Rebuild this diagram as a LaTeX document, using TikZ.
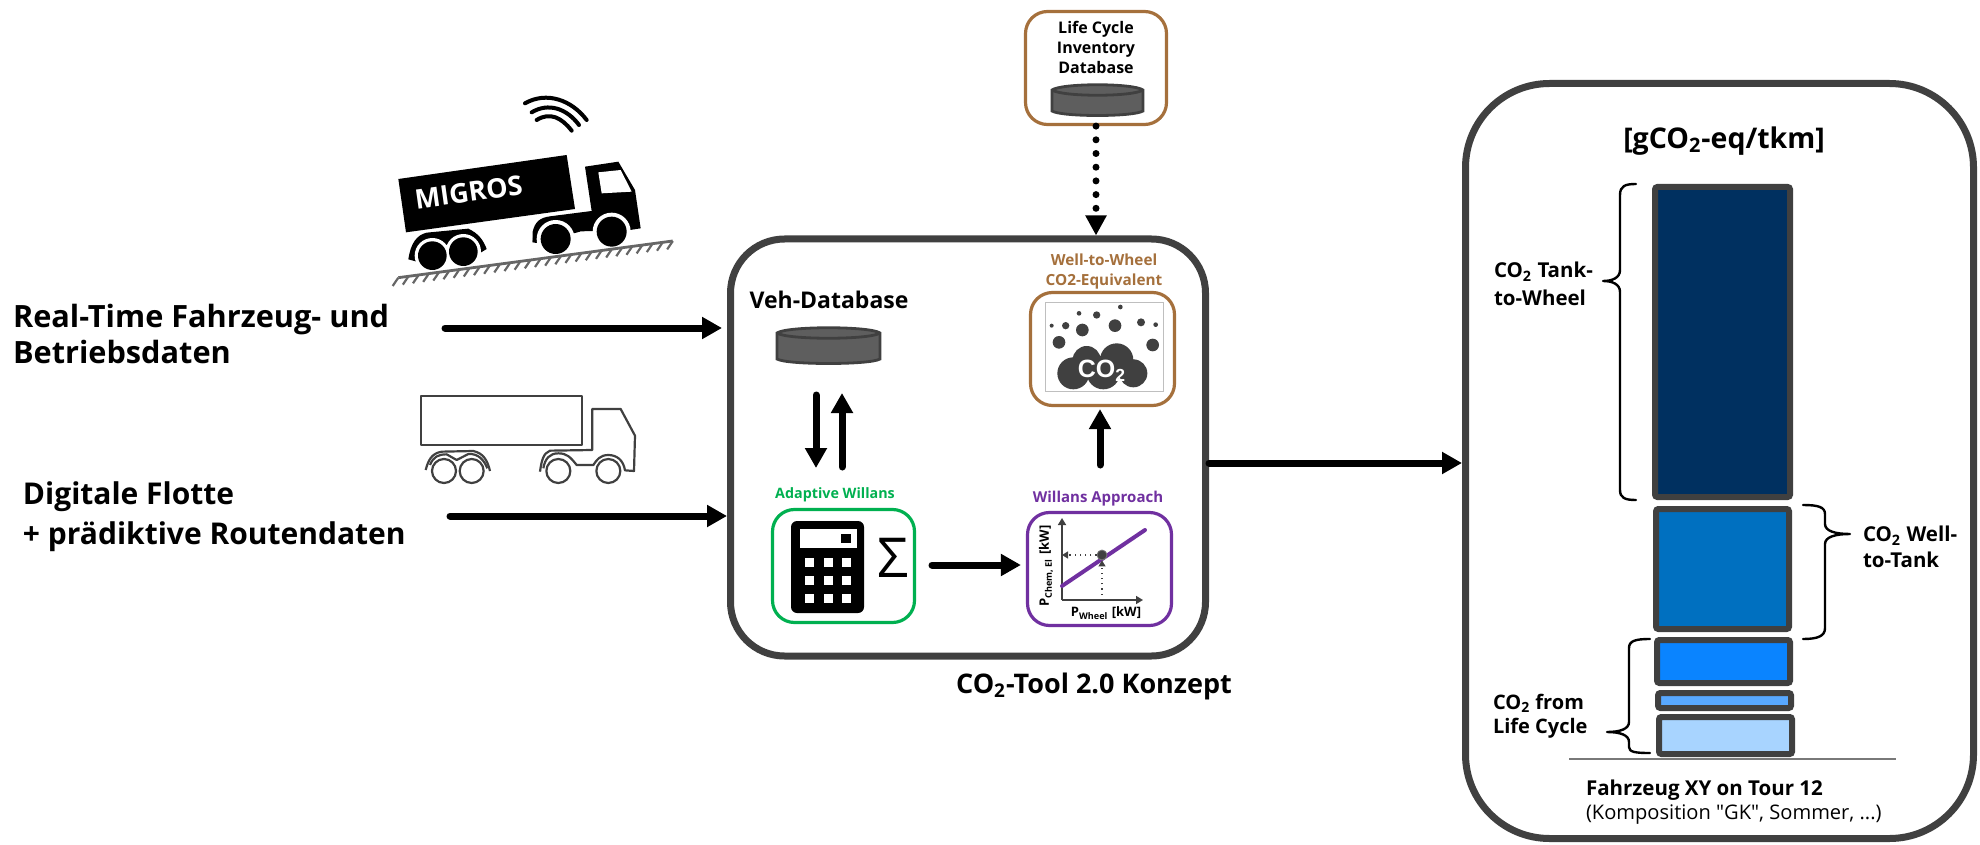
\documentclass[tikz,border=0pt]{standalone}
\usepackage{fontspec}
\setmainfont{Open Sans}
\newfontfamily\plainfont{Open Sans}
\usetikzlibrary{arrows.meta}
\newfontfamily\arialfont{Liberation Sans}
\newcommand{\pxfont}[2]{\fontsize{\dimexpr#1pt/2\relax}{\dimexpr#2pt/2\relax}\selectfont}
\definecolor{frame}{HTML}{404040}
\definecolor{brownc}{HTML}{A5703C}
\definecolor{greenc}{HTML}{00B050}
\definecolor{purplec}{HTML}{7030A0}
\definecolor{discc}{HTML}{5E5E5E}
\definecolor{barA}{HTML}{003060}
\definecolor{barB}{HTML}{0070C0}
\definecolor{barC}{HTML}{0A84FF}
\definecolor{barD}{HTML}{58A8FF}
\definecolor{barE}{HTML}{A8D4FF}
\tikzset{
  wh/.style 2 args={minimum width=#1*0.5pt,minimum height=#2*0.5pt,inner sep=0pt},
  bigbox/.style={draw=frame,line width=3.5pt,fill=white},
  thinbox/.style={draw=#1,line width=1.6pt,rounded corners=11pt,fill=white},
  barbox/.style={draw=frame,line width=3pt,rounded corners=1.2pt,fill=#1},
  lbl/.style={inner sep=0pt,outer sep=0pt,align=center},
  flow/.style={line width=3.5pt,line cap=round,-{Triangle[length=10pt,width=10.5pt]}},
  tiny arrow/.style={frame,line width=0.6pt,dotted,-{Triangle[length=3pt,width=3.5pt]}},
  brace/.style={draw=black,line width=1.2pt,line cap=round,line join=round},
}
\newcommand{\dbdisc}[4]{% x1 y1 x2 y2
  \fill[discc,draw=frame,line width=1.4pt] (#1,#2+5) -- (#1,#4-5) .. controls (#1+10,#4+1) and (#3-10,#4+1) .. (#3,#4-5) -- (#3,#2+5) .. controls (#3-10,#2-2) and (#1+10,#2-2) .. (#1,#2+5) -- cycle;
  \draw[frame,line width=1.4pt] (#1,#2+5) .. controls (#1+10,#2+12) and (#3-10,#2+12) .. (#3,#2+5);
}
\begin{document}
\begin{tikzpicture}[x=0.5pt,y=-0.5pt]
\useasboundingbox (0,0) rectangle (1980,845);

% big frames
\node[bigbox,wh={475}{417},rounded corners=27pt] (main) at (968,447.5) {};
\node[bigbox,wh={508}{755},rounded corners=42pt] (result) at (1719.5,461) {};

% left texts
\node[lbl,anchor=west,align=left,font=\bfseries\pxfont{30.7}{36}] (rt) at (13,334) {Real-Time Fahrzeug- und\\Betriebsdaten};
\node[lbl,anchor=west,align=left,font=\bfseries\pxfont{30}{40}] (dig) at (23,517) {Digitale Flotte\\+ prädiktive Routendaten};
\coordinate (rtend) at (445,328);
\coordinate (digend) at (450,516);
\draw[flow,shorten >=2.5pt] (rtend) -- (rtend -| main.west);
\draw[flow] (digend) -- (digend -| main.west);
\coordinate (mainout) at (main.east |- 0,463);
\draw[flow] (mainout) -- (mainout -| result.west);

% black truck
\begin{scope}[shift={(380,85)},scale=1/3]
  \fill (55,282) -- (560,210) -- (585,372) -- (78,442) -- cycle;
  \node[text=white,font=\bfseries\pxfont{27}{27},rotate=8,inner sep=0pt] (migros) at (266,322) {MIGROS};
  \fill (615,245) -- (715,230) -- (765,315) -- (782,430) -- (750,435) -- (640,438) -- (570,440) -- (540,400) -- (505,420) .. controls (480,430) and (465,445) .. (458,472) -- (458,440) .. controls (465,410) and (480,398) .. (510,394) -- (635,378) -- cycle;
  \fill[white] (655,262) -- (722,255) -- (755,320) -- (665,325) -- cycle;
  \fill (458,472) .. controls (458,420) and (490,398) .. (520,394) -- (600,386) -- (600,440) -- (470,474) -- cycle;
  \fill[white] (527,462) circle[radius=57] (695,440) circle[radius=57];
  \fill (527,462) circle[radius=45] (695,440) circle[radius=45];
  \fill (85,523) .. controls (92,475) and (110,450) .. (140,443) -- (265,431) .. controls (295,445) and (310,465) .. (320,492) -- (290,510) -- (110,530) -- cycle;
  \fill[white] (157,512) circle[radius=53] (250,500) circle[radius=53];
  \fill[white] (60,530) rectangle (110,560);
  \fill (157,512) circle[radius=43] (250,500) circle[radius=43];
  \draw[frame!80,line width=1.4pt] (55,578) -- (878,468);
  \foreach \i in {0,...,27}
    \draw[frame!80,line width=1.1pt] (55+\i*30.5,578-\i*4.07) -- +(-17,25);
  \draw[line width=2pt,line cap=round] (435,55) .. controls (500,18) and (575,45) .. (620,105);
  \draw[line width=2pt,line cap=round] (455,82) .. controls (505,52) and (560,70) .. (597,120);
  \draw[line width=2pt,line cap=round] (470,105) .. controls (510,80) and (545,98) .. (575,137);
\end{scope}

% outlined truck
\begin{scope}[shift={(410,385)},scale=1/3,draw=frame,line width=1.1pt,line join=round]
  \draw (32,33) rectangle (516,180);
  \draw (390,260) .. controls (395,225) and (400,205) .. (420,197) -- (547,195) -- (547,72) -- (632,72) -- (675,152) -- (672,258) -- (645,256) .. controls (640,225) and (620,210) .. (595,210) .. controls (570,210) and (560,225) .. (550,240) -- (500,240) .. controls (480,215) and (470,205) .. (445,205) .. controls (420,205) and (405,220) .. (400,250);
  \draw (102,258) circle[radius=36] (185,258) circle[radius=36] (445,258) circle[radius=36] (595,258) circle[radius=36];
  \draw (47,255) .. controls (55,225) and (65,205) .. (95,200) -- (190,198) .. controls (220,205) and (232,225) .. (240,258);
  \draw (60,240) .. controls (70,215) and (85,208) .. (110,208) -- (140,225) -- (175,207) .. controls (205,205) and (222,225) .. (232,250);
\end{scope}

% LCI box
\node[thinbox=brownc,wh={141}{113}] (lci) at (1096,68) {};
\node[lbl,font=\bfseries\pxfont{16}{20}] (lcit) at (1096,47) {Life Cycle\\Inventory\\Database};
\dbdisc{1052}{85}{1143}{116}
\draw[line width=3.5pt,line cap=round,dash pattern=on 0pt off 6.85pt,-{Triangle[length=10pt,width=10pt]}] (lci.south) -- (main.north -| lci.south);

% Veh-Database
\node[lbl,font=\bfseries\pxfont{23}{26}] (veh) at (829,300) {Veh-Database};
\dbdisc{777}{328}{880}{364}
\coordinate (vd1) at (816,395); \coordinate (vd2) at (816,468);
\coordinate (vu1) at (842,467); \coordinate (vu2) at (842,393);
\draw[flow] (vd1) -- (vd2);
\draw[flow] (vu1) -- (vu2);

% WTW box
\node[lbl,text=brownc,font=\bfseries\pxfont{15.3}{20}] (wtwt) at (1104,271.5) {Well-to-Wheel\\CO2-Equivalent};
\node[thinbox=brownc,wh={144}{113}] (wtw) at (1102.5,349) {};
\draw[black!25,line width=0.5pt] (1045,302) rectangle (1163,391);
\begin{scope}[shift={(1010,250)},scale=1/3]
  \fill[frame] (125,227) circle[radius=6] (167,227) circle[radius=11] (207,190) circle[radius=7] (217,240) circle[radius=19] (260,195) circle[radius=11] (331,171) circle[radius=7] (315,227) circle[radius=19] (393,217) circle[radius=12] (437,224) circle[radius=7] (147,277) circle[radius=19] (428,285) circle[radius=19];
  \fill[frame] (190,370) circle[radius=48] (230,330) circle[radius=42] (320,330) circle[radius=50] (370,370) circle[radius=42] (280,368) circle[radius=50];
  \node[inner sep=0pt,text=white,font=\arialfont\bfseries\pxfont{25}{25}] (cotwo) at (276,362) {CO\textsubscript{2}};
\end{scope}

% Adaptive Willans
\node[lbl,text=greenc,font=\bfseries\pxfont{14.3}{18}] (awt) at (835,495) {Adaptive Willans};
\node[thinbox=greenc,wh={142}{113}] (aw) at (843.5,566) {};
\fill[rounded corners=3pt] (791,521) rectangle (864,613);
\fill[white] (800,529) rectangle (857,548);
\fill (841,534) rectangle (851,543);
\foreach \cx in {809,828,846}
  \foreach \cy in {562,580,598}
    \fill[white] (\cx-4.5,\cy-4.5) rectangle (\cx+4.5,\cy+4.5);
\node[inner sep=0pt,font=\pxfont{55}{55}] (sigma) at (893,558) {Σ};

% Willans approach
\node[lbl,text=purplec,font=\bfseries\pxfont{15}{18}] (wat) at (1098,498.5) {Willans Approach};
\node[thinbox=purplec,wh={144}{113}] (wa) at (1099.5,569) {};
\coordinate (orig) at (1062,600);
\coordinate (ax) at (1143,600);
\coordinate (ay) at (1062,518);
\draw[frame,line width=0.8pt,-{Triangle[length=3.5pt,width=4pt]}] (orig) -- (ax);
\draw[frame,line width=0.8pt,-{Triangle[length=3.5pt,width=4pt]}] (orig) -- (ay);
\coordinate (wl1) at (1062,586);
\coordinate (wl2) at (1145,530);
\draw[purplec,line width=2pt,line cap=round] (wl1) -- (wl2);
\node[circle,fill=frame,draw=frame!70,minimum size=5pt,inner sep=0pt] (wp) at (1102,555) {};
\draw[tiny arrow] (wp) -- (wp -| orig);
\draw[tiny arrow] (wp |- orig) -- (wp);
\node[lbl,rotate=90,font=\bfseries\pxfont{13}{15}] (pchem) at (1046,566) {P\textsubscript{Chem, El} [kW]};
\node[lbl,font=\bfseries\pxfont{13}{15}] (pwheel) at (1106,613) {P\textsubscript{Wheel} [kW]};

\coordinate (c1) at (932,565);
\draw[flow,shorten >=2.5pt] (c1) -- (c1 -| wa.west);
\coordinate (w1) at (1100,465);
\draw[flow,shorten >=1pt] (w1) -- (w1 |- wtw.south);

\node[lbl,font=\bfseries\pxfont{27}{27}] (tool) at (1094,686) {CO\textsubscript{2}-Tool 2.0 Konzept};

% results
\node[lbl,font=\bfseries\pxfont{28.5}{29}] (unit) at (1724,141) {[gCO\textsubscript{2}-eq/tkm]};
\node[barbox=barA,wh={135}{310}] (b1) at (1722.5,342) {};
\node[barbox=barB,wh={133}{120}] (b2) at (1722.5,569) {};
\node[barbox=barC,wh={133}{43}] (b3) at (1723.5,661.5) {};
\node[barbox=barD,wh={133}{15}] (b4) at (1724.5,700.5) {};
\node[barbox=barE,wh={133}{37}] (b5) at (1725.5,735.5) {};
\draw[frame!70,line width=1pt] (1569,759) -- (1896,759);

\draw[brace] (1636,184) .. controls (1625,184) and (1620,186) .. (1620,195) -- (1620,270) .. controls (1620,278) and (1612,281) .. (1603,281) .. controls (1612,281) and (1620,284) .. (1620,292) -- (1620,490) .. controls (1620,498) and (1625,500) .. (1636,500);
\draw[brace] (1803,505) .. controls (1818,505) and (1825,507) .. (1825,514) -- (1825,524) .. controls (1825,531) and (1835,534) .. (1850,534) .. controls (1835,534) and (1825,537) .. (1825,544) -- (1825,628) .. controls (1825,636) and (1818,639) .. (1803,639);
\draw[brace] (1650,639) .. controls (1635,639) and (1629,641) .. (1629,648) -- (1629,722) .. controls (1629,729) and (1620,732) .. (1607,732) .. controls (1620,732) and (1629,735) .. (1629,742) -- (1629,747) .. controls (1629,752) and (1635,753) .. (1650,753);

\node[lbl,anchor=west,align=left,font=\bfseries\pxfont{20.5}{28}] (tw) at (1494,284) {CO\textsubscript{2} Tank-\\to-Wheel};
\node[lbl,anchor=west,align=left,font=\bfseries\pxfont{20.5}{26}] (wt) at (1863,547) {CO\textsubscript{2} Well-\\to-Tank};
\node[lbl,anchor=west,align=left,font=\bfseries\pxfont{20}{24}] (lc) at (1493,716) {CO\textsubscript{2} from\\Life Cycle};
\node[lbl,anchor=west,align=left,font=\bfseries\pxfont{20.5}{24}] (fz) at (1586,802) {Fahrzeug XY on Tour 12\\{\plainfont\mdseries\pxfont{20.1}{24}(Komposition "GK", Sommer, ...)}};
\end{tikzpicture}
\end{document}
